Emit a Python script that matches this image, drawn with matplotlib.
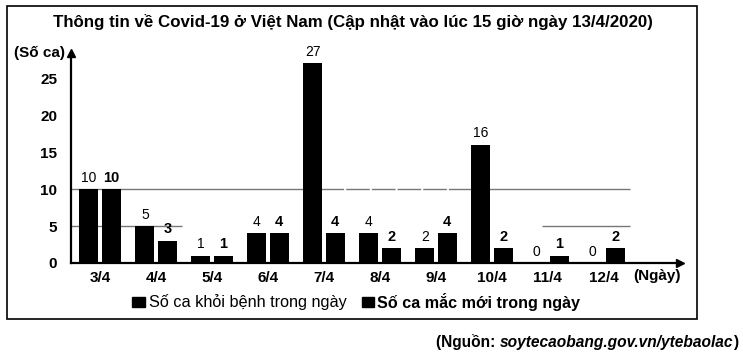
import numpy as np
import matplotlib
matplotlib.use("Agg")
import matplotlib.pyplot as plt
from matplotlib.patches import Rectangle

plt.rcParams['font.family'] = ['Liberation Sans', 'DejaVu Sans']

# data
days = ['3/4', '4/4', '5/4', '6/4', '7/4', '8/4', '9/4', '10/4', '11/4', '12/4']
recovered = [10, 5, 1, 4, 27, 4, 2, 16, 0, 0]   # Số ca khỏi bệnh trong ngày
new_cases = [10, 3, 1, 4, 4, 2, 4, 2, 1, 2]     # Số ca mắc mới trong ngày
yticks = [0, 5, 10, 15, 20, 25]

W, H = 743, 359
fig = plt.figure(figsize=(W / 100, H / 100), dpi=100)


def fit(t, width):
    # shrink/grow a text so it spans the given pixel width
    fig.canvas.draw()
    w = t.get_window_extent(fig.canvas.get_renderer()).width
    t.set_fontsize(t.get_fontsize() * width / w)


# axes placed in pixels: y-axis at x=71, x-axis at y=263, arrow tips at x=680 / y=53
ax = fig.add_axes([71 / W, (H - 263) / H, (680 - 71) / W, (263 - 53) / H])
x = np.arange(len(days))
bw = 0.34
off = 0.2

# partial reference lines
gl = dict(color='#777777', lw=1.0, zorder=1)
ax.hlines(10, -0.52, 3.93, **gl)
ax.hlines(10, 3.93, 6.64, linestyles=(0, (17, 1.5)), **gl)
ax.hlines(10, 6.64, 9.46, **gl)
ax.hlines(5, -0.52, 1.46, **gl)
ax.hlines(5, 7.89, 9.46, **gl)

ax.bar(x - off, recovered, bw, color='black', zorder=2)
ax.bar(x + off, new_cases, bw, color='black', zorder=2)

for xi, v in zip(x, recovered):
    ax.text(xi - off, v + 0.6, str(v), ha='center', va='bottom', fontsize=10)
for xi, v in zip(x, new_cases):
    ax.text(xi + off, v + 0.6, str(v), ha='center', va='bottom',
            fontsize=10.5, fontweight='bold')

ax.set_xlim(-0.52, 10.36)
ax.set_ylim(0, 28.4)
ax.set_xticks(x)
ax.set_xticklabels(days, fontweight='bold', fontsize=11)
ax.set_yticks(yticks)
ax.set_yticklabels([str(t) for t in yticks], fontweight='bold', fontsize=11)
ax.tick_params(length=0, pad=6)
ax.tick_params(axis='y', pad=10)

for s in ['top', 'right']:
    ax.spines[s].set_visible(False)
for s in ['left', 'bottom']:
    ax.spines[s].set_linewidth(1.6)
    ax.spines[s].set_zorder(3)

ax.plot(1, 0, '>k', ms=6, transform=ax.transAxes, clip_on=False, zorder=4)
ax.plot(0, 1, '^k', ms=6, transform=ax.transAxes, clip_on=False, zorder=4)

# outer frame
fig.patches.append(Rectangle((7 / W, (H - 319) / H), (697 - 7) / W, (319 - 6) / H,
                             transform=fig.transFigure, fill=False, ec='black', lw=1.2))

title = fig.text(353 / W, 1 - 22 / H,
                 'Thông tin về Covid-19 ở Việt Nam (Cập nhật vào lúc 15 giờ ngày 13/4/2020)',
                 ha='center', va='center', fontsize=12.5, fontweight='bold')
fit(title, 603)
fig.text(65 / W, 1 - 53 / H, '(Số ca)', ha='right', va='center', fontsize=11, fontweight='bold')
fig.text(633 / W, 1 - 276 / H, '(Ngày)', ha='left', va='center', fontsize=11, fontweight='bold')

# legend
ly = 1 - 302 / H
fig.patches.append(Rectangle((132 / W, 1 - 307 / H), 13 / W, 10 / H,
                             transform=fig.transFigure, color='black'))
l1 = fig.text(149 / W, ly, 'Số ca khỏi bệnh trong ngày', ha='left', va='center', fontsize=11)
fit(l1, 198)
fig.patches.append(Rectangle((362 / W, 1 - 307 / H), 12 / W, 10 / H,
                             transform=fig.transFigure, color='black'))
l2 = fig.text(377 / W, ly, 'Số ca mắc mới trong ngày', ha='left', va='center', fontsize=11,
              fontweight='bold')
fit(l2, 203)

# source line
src_size = 12
t3 = fig.text(738 / W, 1 - 342 / H, ')', ha='right', va='center', fontsize=src_size,
              fontweight='bold')
t2 = fig.text(0, 0, 'soytecaobang.gov.vn/ytebaolac', fontsize=src_size, fontweight='bold',
              fontstyle='italic', ha='right', va='bottom')
t1 = fig.text(0, 0, '(Nguồn: ', fontsize=src_size, fontweight='bold', ha='right', va='bottom')


def place_source():
    fig.canvas.draw()
    r = fig.canvas.get_renderer()
    bb3 = t3.get_window_extent(r)
    t2.set_position((bb3.x0 / W, bb3.y0 / H))
    fig.canvas.draw()
    bb2 = t2.get_window_extent(r)
    t1.set_position((bb2.x0 / W, bb3.y0 / H))
    fig.canvas.draw()
    return t3.get_window_extent(r).x1 - t1.get_window_extent(r).x0


total = place_source()
scale = 303 / total
for t in (t1, t2, t3):
    t.set_fontsize(src_size * scale)
place_source()

fig.savefig('out.png', dpi=100)
